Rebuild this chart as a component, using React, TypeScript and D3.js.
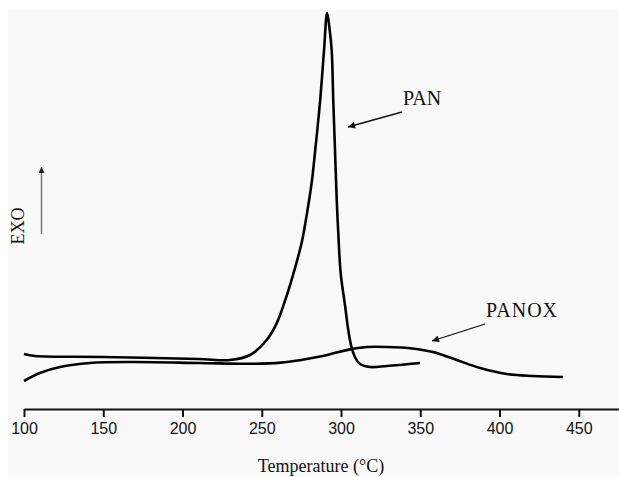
import { useRef, useEffect } from "react";
import * as d3 from "d3";

// DSC curves, temperature in °C vs heat flow (arbitrary units, exo up)
const panTemp = [100, 107, 150, 210, 230, 242.6, 253.1, 259.4, 265.7, 271, 275.2, 278.4, 281.5, 283.6, 286.8, 289.3, 291.2, 292.6, 294.1, 295.1, 296.2, 297.3, 298.7, 299.9, 302.5, 304.4, 306.3, 308.8, 312, 318.3, 329, 349.8];
const panFlow = [13.75, 13.25, 13.0, 12.5, 12.25, 13.5, 17.25, 21.4, 28.3, 35.3, 41.6, 48.6, 56.6, 64.2, 77, 89.75, 99, 95.6, 89.75, 77.25, 64.75, 52.25, 40.5, 33.5, 26, 20.25, 16, 13, 11.25, 10.5, 10.75, 11.5];

const panoxTemp = [100, 110, 122.7, 141.6, 168.8, 211, 242.6, 262, 274, 286.8, 296, 305.7, 312, 316.4, 329, 343.5, 358, 373, 387.7, 404.7, 421, 440];
const panoxFlow = [7, 9, 10.5, 11.5, 11.75, 11.5, 11.3, 11.6, 12.2, 13.1, 14.0, 14.9, 15.3, 15.5, 15.5, 15.2, 14.25, 12.25, 10.25, 8.75, 8.25, 8];

const xTicks = [100, 150, 200, 250, 300, 350, 400, 450];

const W = 619;
const H = 477;

export default function App() {
  const axisRef = useRef<SVGGElement>(null);

  const x = d3.scaleLinear().domain([100, 475]).range([24, 618.4]);
  const y = d3.scaleLinear().domain([0, 100]).range([409, 9]);

  const line = d3
    .line<number>()
    .x((d) => x(d))
    .curve(d3.curveCatmullRom.alpha(0.5));

  const panPath = line.y((d, i) => y(panFlow[i]))(panTemp);
  const panoxPath = line.y((d, i) => y(panoxFlow[i]))(panoxTemp);

  useEffect(() => {
    const g = d3.select(axisRef.current);
    g.call(
      d3.axisBottom(x).tickValues(xTicks).tickSize(8).tickSizeOuter(0).tickPadding(6)
    );
    g.select(".domain").attr("stroke", "#111").attr("stroke-width", 2);
    g.selectAll(".tick line").attr("stroke", "#111").attr("stroke-width", 2);
    g.selectAll(".tick text")
      .attr("fill", "#111")
      .attr("font-size", 16)
      .attr("font-family", "'Liberation Sans', Arial, sans-serif");
  }, []);

  return (
    <svg
      width={W}
      height={H}
      style={{ position: "absolute", left: 0, top: 0, background: "#fff" }}
    >
      <defs>
        <marker id="headBlack" viewBox="0 0 10 10" refX="10" refY="5" markerWidth="10" markerHeight="7" markerUnits="userSpaceOnUse" orient="auto">
          <path d="M0,0 L10,5 L0,10 z" fill="#111" />
        </marker>
        <marker id="headGray" viewBox="0 0 10 10" refX="10" refY="5" markerWidth="9" markerHeight="6" markerUnits="userSpaceOnUse" orient="auto">
          <path d="M0,0 L10,5 L0,10 z" fill="#222" />
        </marker>
      </defs>
      <rect x={8} y={10} width={W - 8} height={H - 10} fill="#f9f9f9" />

      <g ref={axisRef} transform={`translate(0,${y(0)})`} />

      <path d={panPath ?? ""} fill="none" stroke="#000" strokeWidth={2.6} />
      <path d={panoxPath ?? ""} fill="none" stroke="#000" strokeWidth={2.6} />

      {/* annotations */}
      <text x={403} y={105} fontSize={20} fontFamily="'Liberation Serif', 'Times New Roman', serif" fill="#111">PAN</text>
      <line x1={402} y1={112} x2={348} y2={127} stroke="#111" strokeWidth={1.3} markerEnd="url(#headBlack)" />
      <text x={486} y={317} fontSize={20} fontFamily="'Liberation Serif', 'Times New Roman', serif" fill="#111" letterSpacing={1}>PANOX</text>
      <line x1={485} y1={324} x2={432} y2={341} stroke="#111" strokeWidth={1.3} markerEnd="url(#headBlack)" />

      <text
        transform="translate(24,226) rotate(-90)"
        textAnchor="middle"
        fontSize={18}
        fontFamily="'Liberation Serif', 'Times New Roman', serif"
        fill="#111"
      >
        EXO
      </text>
      <line x1={41.5} y1={234} x2={41.5} y2={167} stroke="#777" strokeWidth={1.5} markerEnd="url(#headGray)" />

      <text
        x={321}
        y={472}
        textAnchor="middle"
        fontSize={18}
        fontFamily="'Liberation Serif', 'Times New Roman', serif"
        fill="#111"
      >
        Temperature (°C)
      </text>
    </svg>
  );
}
